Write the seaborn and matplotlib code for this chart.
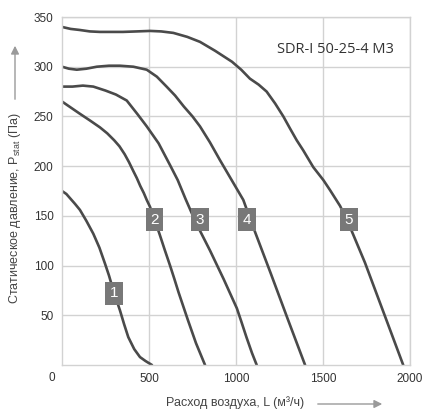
import numpy as np
import pandas as pd
import matplotlib
matplotlib.use("Agg")
import matplotlib.pyplot as plt
import seaborn as sns

# curves: airflow (m3/h) vs static pressure (Pa)
x1 = [0, 25, 50, 75, 103, 140, 180, 215, 247, 270, 290, 310, 333, 357, 381, 415, 448, 480, 517]
y1 = [175, 172, 167, 162, 156, 145, 132, 118, 102, 90, 78, 67, 55, 41, 28, 16, 8, 4, 0]
x2 = [0, 50, 100, 160, 218, 260, 300, 330, 360, 385, 410, 430, 450, 470, 487, 506, 530,
      560, 590, 621, 645, 670, 697, 724, 748, 770, 796, 822]
y2 = [265, 259, 253, 246, 239, 233, 226, 220, 212, 204, 195, 188, 180, 173, 166, 159, 147,
      132, 116, 100, 87, 73, 59, 45, 33, 22, 11, 0]
x3 = [0, 60, 120, 180, 250, 310, 372, 435, 487, 555, 621, 665, 710, 750, 793, 851, 930,
      1005, 1030, 1060, 1092, 1119]
y3 = [280, 280, 281, 280, 276, 272, 266, 252, 240, 223, 201, 186, 167, 151, 135, 115, 86,
      57, 44, 28, 12, 0]
x4 = [0, 40, 85, 140, 200, 270, 333, 410, 487, 545, 601, 650, 700, 750, 793, 850, 908,
      975, 1042, 1075, 1109, 1200, 1300, 1397]
y4 = [300, 298, 297, 298, 300, 301, 301, 300, 297, 290, 280, 271, 260, 250, 240, 224, 206,
      186, 166, 150, 134, 92, 45, 0]
x5 = [0, 50, 100, 160, 218, 280, 350, 430, 506, 570, 640, 720, 793, 880, 977, 1030, 1080,
      1130, 1176, 1225, 1272, 1310, 1349, 1386, 1444, 1502, 1540, 1598, 1640, 1674, 1741,
      1850, 1961]
y5 = [340, 338, 337, 335.5, 335, 335, 335, 335.5, 336, 335.5, 334, 330, 325, 316, 305, 297,
      288, 282, 275, 263, 250, 238, 226, 216, 199, 186, 176, 160, 145, 131, 103, 52, 0]

curve_names = ["1", "2", "3", "4", "5"]
# label box positions (x, y) in data units
label_x = [299, 532, 793, 1063, 1649]
label_y = [72, 146, 146, 146, 146]

xticks = [500, 1000, 1500, 2000]
yticks = [50, 100, 150, 200, 250, 300, 350]
model = "SDR-I 50-25-4 M3"

frames = []
for name, xs, ys in zip(curve_names, [x1, x2, x3, x4, x5], [y1, y2, y3, y4, y5]):
    frames.append(pd.DataFrame({"L": xs, "P": ys, "curve": name}))
df = pd.concat(frames, ignore_index=True)

sns.set_style("white")
plt.rcParams["font.family"] = ["Liberation Sans", "DejaVu Sans"]

fig = plt.figure(figsize=(4.27, 4.12), dpi=100)
ax = fig.add_axes([62 / 427, 47 / 412, 348 / 427, 348 / 412])

grid_c = "#d2d2d2"
line_c = "#4a4a4a"

sns.lineplot(data=df, x="L", y="P", hue="curve", units="curve", estimator=None,
             sort=False, palette=[line_c] * 5, legend=False, linewidth=1.9, ax=ax)
for ln in ax.lines:
    ln.set_solid_joinstyle("round")

ax.set_xlim(0, 2000)
ax.set_ylim(0, 350)
ax.set_xticks(xticks)
ax.set_yticks(yticks)
ax.grid(True, color=grid_c, linewidth=1.0)
ax.set_axisbelow(True)
for s in ax.spines.values():
    s.set_color(grid_c)
    s.set_linewidth(1.0)
ax.tick_params(length=0, labelsize=8.5, labelcolor="#333333", pad=6)
ax.set_xlabel("")
ax.set_ylabel("")
ax.text(-57, -13, "0", ha="center", va="center", fontsize=8.5, color="#333333", clip_on=False)

for name, lx, ly in zip(curve_names, label_x, label_y):
    ax.text(lx, ly, name, ha="center", va="center", fontsize=11, color="white",
            bbox=dict(boxstyle="square,pad=0.3", fc="#787878", ec="none"), zorder=5)

ax.text(0.955, 0.907, model, transform=ax.transAxes, ha="right", va="center",
        fontsize=10.5, color="#333333", family="Open Sans")

# axis captions with arrows
fig.text(15 / 427, 1 - 208 / 412, "Статическое давление, $\\mathregular{P_{stat}}$ (Па)",
         rotation=90, ha="center", va="center", fontsize=9, color="#444444")
ax.annotate("", xy=(15, 369), xytext=(15, 310), xycoords="figure pixels",
            textcoords="figure pixels",
            arrowprops=dict(arrowstyle="-|>", color="#9a9a9a", lw=1, mutation_scale=12))
fig.text(235 / 427, 9 / 412, "Расход воздуха, L (м³/ч)", ha="center", va="center",
         fontsize=9, color="#444444")
ax.annotate("", xy=(385, 8), xytext=(315, 8), xycoords="figure pixels",
            textcoords="figure pixels",
            arrowprops=dict(arrowstyle="-|>", color="#9a9a9a", lw=1, mutation_scale=12))

fig.savefig("out.png", dpi=100)
